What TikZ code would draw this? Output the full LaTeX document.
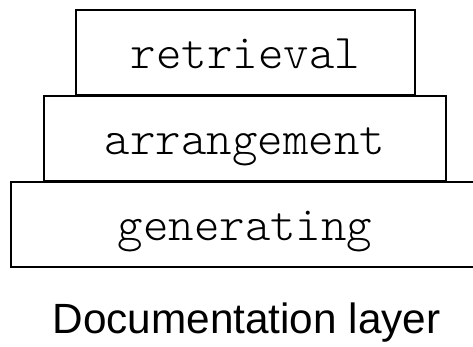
\documentclass[tikz,border=0pt]{standalone}
\usepackage{fontspec}
\setmainfont{Liberation Sans}
\setmonofont{lmmonolt10-regular.otf}
\begin{document}
\begin{tikzpicture}[x=1pt, y=-1pt,
  layerbox/.style={draw=black, line width=1.7pt, rectangle, inner sep=0pt,
    minimum height=85pt, text height=32pt, text depth=0pt,
    font=\fontsize{48.5}{56}\selectfont\ttfamily},
  captiontext/.style={anchor=base, inner sep=0pt,
    font=\fontsize{42.3}{50}\selectfont\rmfamily}]
  \useasboundingbox (0,0) rectangle (473,347);
  \fill[white] (0,0) rectangle (473,347);
  \clip (0,0) rectangle (473,347);
  % stacked layers, widest at the bottom
  \node[layerbox, minimum width=339pt] (retrieval)   at (245.5,52.2)  {retrieval};
  \node[layerbox, minimum width=402pt] (arrangement) at (245,138.5)   {arrangement};
  \node[layerbox, minimum width=468pt] (generating)  at (245,224.8)   {generating};
  % caption
  \node[captiontext] (caption) at (246.5,333) {Documentation layer};
\end{tikzpicture}
\end{document}
